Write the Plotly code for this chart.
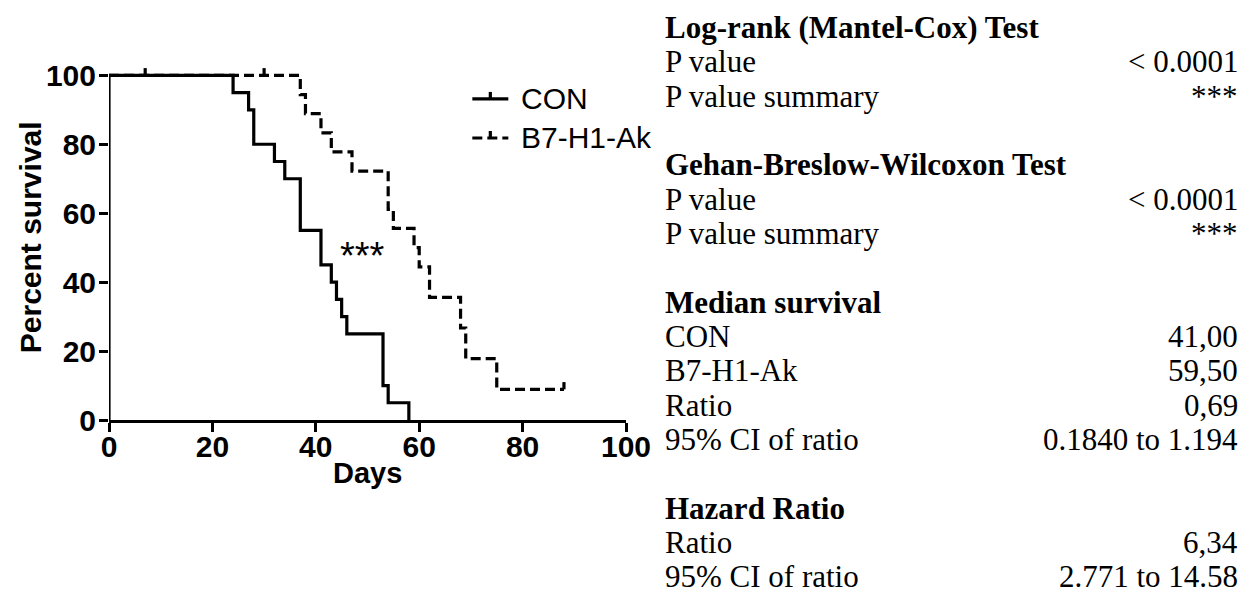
import plotly.graph_objects as go

# Kaplan-Meier step data (days, percent survival)
con_days = [0, 24, 27, 28, 32, 34, 37, 41, 43, 44, 45, 46, 53, 54, 58]
con_survival = [100, 95, 90, 80, 75, 70, 55, 45, 40, 35, 30, 25, 10, 5, 0]
con_censored_days = [7]

b7_days = [0, 37, 38, 41, 43, 47, 54, 55, 59, 60, 62, 68, 69, 75, 88]
b7_survival = [100, 94.4, 88.9, 83.3, 77.8, 72.2, 61.1, 55.6, 50.0, 44.4, 35.6, 26.7, 17.8, 8.9, 8.9]
b7_censored_days = [30, 88]

group_names = ["CON", "B7-H1-Ak"]
x_ticks = [0, 20, 40, 60, 80, 100]
y_ticks = [0, 20, 40, 60, 80, 100]
significance = "***"

# statistics table
logrank_rows = [("P value", "< 0.0001"), ("P value summary", "***")]
gehan_rows = [("P value", "< 0.0001"), ("P value summary", "***")]
median_rows = [("CON", "41,00"), ("B7-H1-Ak", "59,50"), ("Ratio", "0,69"),
               ("95% CI of ratio", "0.1840 to 1.194")]
hazard_rows = [("Ratio", "6,34"), ("95% CI of ratio", "2.771 to 14.58")]
sections = [("Log-rank (Mantel-Cox) Test", logrank_rows),
            ("Gehan-Breslow-Wilcoxon Test", gehan_rows),
            ("Median survival", median_rows),
            ("Hazard Ratio", hazard_rows)]

W_PX, H_PX = 1252, 596
M_L, M_R, M_T, M_B = 108.6, 626.3, 65.4, 176
PLOT_W = W_PX - M_L - M_R
PLOT_H = H_PX - M_T - M_B
SANS = "Arial, Liberation Sans, sans-serif"
SERIF = "Times New Roman, Liberation Serif, serif"
LW = 3.2
TICK_UP = 2.1  # censor tick height in percent units


def px_x(px):
    return (px - M_L) / PLOT_W


def px_y(py):
    return (H_PX - M_B - py) / PLOT_H


def step_value(days, surv, t):
    v = surv[0]
    for d, s in zip(days, surv):
        if d <= t:
            v = s
    return v


def censor_segments(cdays, days, surv):
    xs, ys = [], []
    for t in cdays:
        s = step_value(days, surv, t)
        xs += [t, t, None]
        ys += [s, s + TICK_UP, None]
    return xs, ys


fig = go.Figure()

fig.add_trace(go.Scatter(x=con_days, y=con_survival, mode="lines",
                         line=dict(color="black", width=LW, shape="hv"),
                         name=group_names[0], showlegend=False))
fig.add_trace(go.Scatter(x=b7_days, y=b7_survival, mode="lines",
                         line=dict(color="black", width=LW, shape="hv", dash="10px,5px"),
                         name=group_names[1], showlegend=False))

cx, cy = censor_segments(con_censored_days, con_days, con_survival)
fig.add_trace(go.Scatter(x=cx, y=cy, mode="lines", line=dict(color="black", width=LW),
                         showlegend=False, hoverinfo="skip"))
bx, by = censor_segments(b7_censored_days, b7_days, b7_survival)
fig.add_trace(go.Scatter(x=bx, y=by, mode="lines", line=dict(color="black", width=LW),
                         showlegend=False, hoverinfo="skip"))

shapes = []
# y axis line from 0 to 100
shapes.append(dict(type="line", xref="x", yref="y", x0=0, x1=0, y0=0, y1=y_ticks[-1],
                   line=dict(color="black", width=LW)))

# legend samples
for py, dash in [(99.3, "solid"), (138.3, "10px,5px")]:
    shapes.append(dict(type="line", xref="paper", yref="paper",
                       x0=px_x(472), x1=px_x(508), y0=px_y(py), y1=px_y(py),
                       line=dict(color="black", width=LW, dash=dash)))
    shapes.append(dict(type="line", xref="paper", yref="paper",
                       x0=px_x(490), x1=px_x(490), y0=px_y(py), y1=px_y(py - 7),
                       line=dict(color="black", width=LW)))

annotations = []
for name, py in zip(group_names, [99.3, 138.3]):
    annotations.append(dict(text=name, xref="paper", yref="paper", x=px_x(519), y=px_y(py),
                            xanchor="left", yanchor="middle", showarrow=False,
                            font=dict(family=SANS, size=30, color="black")))

annotations.append(dict(text=significance, xref="x", yref="y", x=49, y=47.5,
                        xanchor="center", yanchor="middle", showarrow=False,
                        font=dict(family=SANS, size=38, color="black")))

# axis titles
annotations.append(dict(text="<b>Days</b>", xref="paper", yref="paper", x=0.5, y=px_y(473),
                        xanchor="center", yanchor="middle", showarrow=False,
                        font=dict(family=SANS, size=29, color="black")))
annotations.append(dict(text="<b>Percent survival</b>", xref="paper", yref="paper",
                        x=px_x(30), y=px_y(237), textangle=-90,
                        xanchor="center", yanchor="middle", showarrow=False,
                        font=dict(family=SANS, size=30, color="black")))

# statistics table text: one line every PITCH px, a blank line between sections
TOP_PX = 28
PITCH = 34.3
LEFT_PX, RIGHT_PX = 663, 1240
TABLE_FONT = dict(family=SERIF, size=31, color="black")
line_no = 0
for title, rows in sections:
    annotations.append(dict(text="<b>" + title + "</b>", xref="paper", yref="paper",
                            x=px_x(LEFT_PX), y=px_y(TOP_PX + line_no * PITCH),
                            xanchor="left", yanchor="middle", showarrow=False, font=TABLE_FONT))
    line_no += 1
    for label, value in rows:
        yy = px_y(TOP_PX + line_no * PITCH)
        annotations.append(dict(text=label, xref="paper", yref="paper",
                                x=px_x(LEFT_PX), y=yy, xanchor="left", yanchor="middle",
                                showarrow=False, font=TABLE_FONT))
        annotations.append(dict(text=value, xref="paper", yref="paper",
                                x=px_x(RIGHT_PX), y=yy, xanchor="right", yanchor="middle",
                                showarrow=False, font=TABLE_FONT))
        line_no += 1
    line_no += 1

axis_common = dict(ticks="outside", ticklen=9, tickwidth=LW, tickcolor="black",
                   showgrid=False, zeroline=False, fixedrange=True,
                   tickfont=dict(family=SANS, size=30, color="black", weight="bold"))

fig.update_layout(
    width=W_PX, height=H_PX,
    margin=dict(l=M_L, r=M_R, t=M_T, b=M_B, pad=0),
    paper_bgcolor="white", plot_bgcolor="white",
    showlegend=False,
    shapes=shapes, annotations=annotations,
    xaxis=dict(range=[0, 100], tickvals=x_ticks, showline=True, linecolor="black",
               linewidth=LW, ticklabelstandoff=-11, **axis_common),
    yaxis=dict(range=[0, 103], tickvals=y_ticks, showline=False,
               ticklabelstandoff=-3, **axis_common),
)

fig.write_html("out.html", config={"displayModeBar": False})
